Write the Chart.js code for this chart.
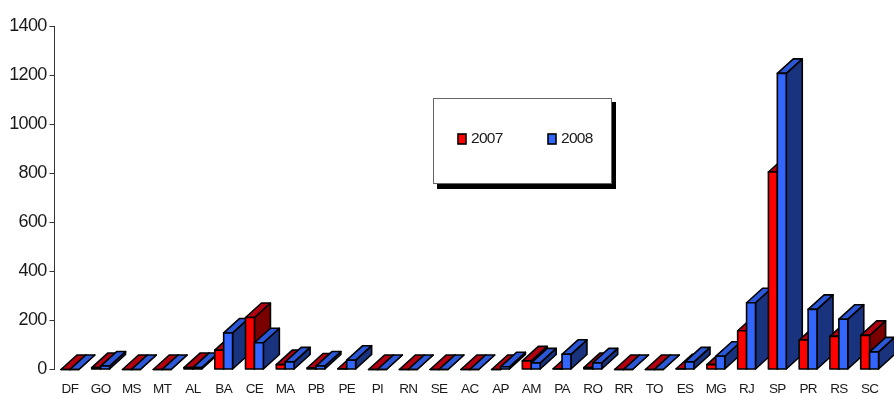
<!DOCTYPE html>
<html lang="pt">
<head>
<meta charset="UTF-8">
<title>Estados 2007 / 2008</title>
<script src="https://cdn.jsdelivr.net/npm/chart.js"></script>
<style>
  html, body { margin: 0; padding: 0; background: #fff; }
  canvas { display: block; }
</style>
</head>
<body>
<canvas id="chartEstados" width="894" height="394"></canvas>
<script>
const categories = ['DF','GO','MS','MT','AL','BA','CE','MA','PB','PE','PI','RN','SE','AC','AP','AM','PA','RO','RR','TO','ES','MG','RJ','SP','PR','RS','SC'];
const values2007 = [0,8,0,0,8,79,212,20,6,3,0,0,0,0,0,35,3,8,0,0,3,20,158,805,120,135,139];
const values2008 = [0,14,0,0,8,149,109,31,14,38,0,0,0,0,11,27,62,27,0,0,31,54,272,1207,245,205,72];

const faces2007 = { front: '#ff0000', top: '#b00012', side: '#7a0000' };
const faces2008 = { front: '#3366ff', top: '#2c58d8', side: '#1a337f' };

const DEPTH_X = 16;
const DEPTH_Y = 14.5;

function poly(ctx, pts, fill) {
  ctx.beginPath();
  pts.forEach((p, i) => i ? ctx.lineTo(p[0], p[1]) : ctx.moveTo(p[0], p[1]));
  ctx.closePath();
  ctx.fillStyle = fill;
  ctx.fill();
  ctx.stroke();
}

// prisma: lateral e topo deslocados, frente por cima
function drawBar3d(ctx, bar, faces) {
  const l = bar.x - bar.width / 2, r = bar.x + bar.width / 2;
  const t = bar.y, b = bar.base;
  poly(ctx, [[r, t], [r + DEPTH_X, t - DEPTH_Y], [r + DEPTH_X, b - DEPTH_Y], [r, b]], faces.side);
  poly(ctx, [[l, t], [l + DEPTH_X, t - DEPTH_Y], [r + DEPTH_X, t - DEPTH_Y], [r, t]], faces.top);
  poly(ctx, [[l, t], [r, t], [r, b], [l, b]], faces.front);
}

// desenha por estado, da esquerda para a direita, para as sobreposicoes ficarem certas
const bars3d = {
  id: 'bars3d',
  beforeDraw(chart) {
    // texto mais apertado nos eixos e na legenda
    chart.ctx.letterSpacing = '-0.7px';
  },
  beforeDatasetsDraw(chart) {
    const ctx = chart.ctx;
    ctx.save();
    ctx.strokeStyle = '#000';
    ctx.lineWidth = 1.6;
    ctx.lineJoin = 'round';
    categories.forEach((c, i) => {
      chart.data.datasets.forEach((ds, d) => {
        drawBar3d(ctx, chart.getDatasetMeta(d).data[i], ds.faces);
      });
    });
    ctx.restore();
    return false;
  }
};

// caixa da legenda com sombra preta
const boxLegend = {
  id: 'boxLegend',
  afterDraw(chart) {
    const ctx = chart.ctx;
    ctx.save();
    ctx.fillStyle = '#000';
    ctx.fillRect(437, 102, 179, 87);
    ctx.fillStyle = '#fff';
    ctx.fillRect(433.5, 98.5, 178, 85);
    ctx.strokeStyle = '#666';
    ctx.lineWidth = 1;
    ctx.strokeRect(433.5, 98.5, 178, 85);
    const xs = [458, 548];
    chart.data.datasets.forEach((ds, d) => {
      ctx.fillStyle = ds.faces.front;
      ctx.strokeStyle = '#000';
      ctx.lineWidth = 1.6;
      ctx.fillRect(xs[d], 134, 8, 10);
      ctx.strokeRect(xs[d], 134, 8, 10);
      ctx.fillStyle = '#1a1a1a';
      ctx.font = '15.5px "Liberation Sans"';
      ctx.textBaseline = 'middle';
      ctx.fillText(ds.label, xs[d] + 13, 139);
    });
    ctx.restore();
  }
};

new Chart(document.getElementById('chartEstados'), {
  type: 'bar',
  data: {
    labels: categories,
    datasets: [
      { label: '2007', data: values2007, faces: faces2007, backgroundColor: faces2007.front },
      { label: '2008', data: values2008, faces: faces2008, backgroundColor: faces2008.front }
    ]
  },
  options: {
    responsive: false,
    animation: false,
    categoryPercentage: 0.58,
    barPercentage: 1,
    layout: { autoPadding: false, padding: { top: 26, right: 9, left: 0, bottom: 0 } },
    plugins: { legend: { display: false }, tooltip: { enabled: false } },
    scales: {
      x: {
        grid: { display: false, drawTicks: false },
        border: { display: false },
        ticks: {
          autoSkip: false, maxRotation: 0, padding: 11.5,
          color: '#1a1a1a', font: { family: '"Liberation Sans"', size: 13.5 }
        },
        afterFit(scale) { scale.height = 24.5; }
      },
      y: {
        min: 0, max: 1400,
        grid: { drawOnChartArea: false, tickLength: 5, tickColor: '#333' },
        border: { color: '#333', width: 1 },
        ticks: {
          stepSize: 200, padding: 3,
          color: '#1a1a1a', font: { family: '"Liberation Sans"', size: 18 },
          callback: v => String(v)
        },
        afterFit(scale) { scale.width = 54.5; }
      }
    }
  },
  plugins: [bars3d, boxLegend]
});
</script>
</body>
</html>
